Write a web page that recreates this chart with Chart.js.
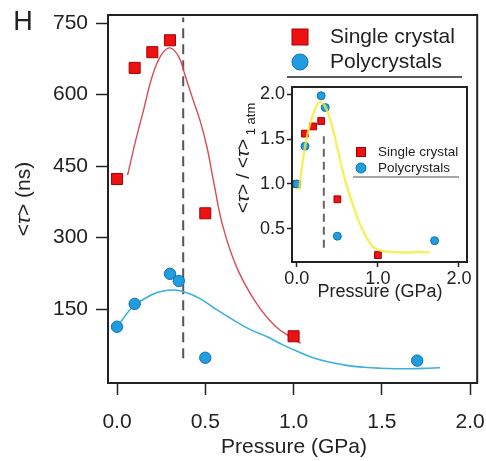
<!DOCTYPE html>
<html>
<head>
<meta charset="utf-8">
<script src="https://cdn.jsdelivr.net/npm/chart.js@4.4.1/dist/chart.umd.min.js"></script>
<style>
  html, body { margin: 0; padding: 0; background: #fff; }
  #wrap { position: relative; width: 486px; height: 461px; }
  canvas { position: absolute; left: 0; top: 0; }
</style>
</head>
<body>
<div id="wrap">
  <canvas id="main" width="486" height="461"></canvas>
  <canvas id="inset" width="486" height="461"></canvas>
</div>
<script>
// main panel data (ns)
const pressureSingle = [0, 0.1, 0.2, 0.3, 0.5, 1.0];
const tauSingle = [423, 656, 689, 714, 351, 93];
const pressurePoly = [0, 0.1, 0.3, 0.35, 0.5, 1.7];
const tauPoly = [113, 161, 224, 209, 48, 42];

// fitted curves
const fitSingleP = [0.06, 0.10, 0.15, 0.20, 0.25, 0.30, 0.35, 0.385, 0.43, 0.47, 0.51, 0.55, 0.60, 0.68, 0.79, 0.90, 1.00, 1.04];
const fitSingleT = [431, 495, 567, 639, 683, 698, 679, 641, 590, 546, 489, 412, 323, 236, 162, 113, 88, 78];
const fitPolyP = [0.02, 0.09, 0.19, 0.26, 0.33, 0.40, 0.47, 0.56, 0.66, 0.75, 0.85, 0.94, 1.03, 1.11, 1.20, 1.30, 1.40, 1.49, 1.58, 1.67, 1.76, 1.83];
const fitPolyT = [123, 155, 179, 188, 190, 184, 172, 150, 127, 108, 92, 75, 60, 48, 39, 32, 28, 26, 25, 25, 26, 27];

const peakP = 0.375;
const peakLineT = [47, 762];

const xTicks = [0, 0.5, 1.0, 1.5, 2.0];
const yTicks = [150, 300, 450, 600, 750];

// inset data (normalised to 1 atm)
const insetSingleR = [1.0, 1.56, 1.64, 1.70, 0.83, 0.21];
const insetPolyR = [1.0, 1.42, 1.98, 1.85, 0.42, 0.37];
const insetFitP = [0.03, 0.06, 0.10, 0.16, 0.22, 0.28, 0.35, 0.43, 0.51, 0.59, 0.68, 0.80, 0.92, 1.00, 1.09, 1.25, 1.45, 1.64];
const insetFitR = [0.93, 1.17, 1.41, 1.66, 1.82, 1.91, 1.86, 1.66, 1.36, 1.06, 0.80, 0.51, 0.32, 0.27, 0.25, 0.24, 0.24, 0.24];
const insetPeakP = 0.333;
const insetPeakLineR = [0.29, 1.53];
const insetXTicks = [0, 1.0, 2.0];
const insetYTicks = [0.5, 1.0, 1.5, 2.0];

const FONT = "'Liberation Sans', Arial, sans-serif";
const INK = "#222";
const RED = "#ee1111", RED_EDGE = "#a80000";
const BLUE = "#1f9de0", BLUE_EDGE = "#1270ac";

const pts = (xs, ys) => xs.map((x, i) => ({ x: x, y: ys[i] }));

// draw a run of text pieces (different fonts / baseline shifts) centred at x,y
function drawParts(ctx, parts, x, y, angle) {
  ctx.save();
  ctx.translate(x, y);
  ctx.rotate(angle || 0);
  ctx.textBaseline = "middle";
  ctx.textAlign = "left";
  let total = 0;
  parts.forEach(p => { ctx.font = p.font; total += ctx.measureText(p.text).width; });
  let cx = -total / 2;
  parts.forEach(p => {
    ctx.font = p.font;
    ctx.fillStyle = INK;
    ctx.fillText(p.text, cx, p.dy || 0);
    cx += ctx.measureText(p.text).width;
  });
  ctx.restore();
}

const framePlugin = {
  id: "frame",
  afterDraw(chart) {
    const a = chart.chartArea, ctx = chart.ctx;
    ctx.save();
    ctx.strokeStyle = INK;
    ctx.lineWidth = 2;
    ctx.strokeRect(a.left, a.top, a.right - a.left, a.bottom - a.top);
    ctx.restore();
  }
};

function axisOpts(min, max, ticks, fontSize, tickLen, pad, fmt, fit) {
  return {
    type: "linear", min: min, max: max,
    afterFit: fit,
    afterBuildTicks(s) { s.ticks = ticks.map(v => ({ value: v })); },
    grid: { drawOnChartArea: false, tickLength: tickLen, tickColor: INK, tickWidth: 1.5 },
    border: { color: INK, width: 2 },
    ticks: { font: { family: FONT, size: fontSize }, color: INK, padding: pad, autoSkip: false, maxRotation: 0, callback: fmt }
  };
}

// fixed axis sizes, no extra room for overhanging labels
const fixX = h => s => { s.height = h; s.paddingLeft = 0; s.paddingRight = 0; };
const fixY = w => s => { s.width = w; s.paddingTop = 0; s.paddingBottom = 0; };

// ---- main chart
const mainTexts = {
  id: "mainTexts",
  afterDraw(chart) {
    const ctx = chart.ctx;
    const f = "21px " + FONT, fi = "italic 21px " + FONT;
    drawParts(ctx, [{ text: "H", font: "27px " + FONT }], 23, 23);
    drawParts(ctx, [{ text: "<", font: f }, { text: "τ", font: fi }, { text: "> (ns)", font: f }], 24, 199, -Math.PI / 2);
    drawParts(ctx, [{ text: "Pressure (GPa)", font: f }], 294, 447);

    // legend
    ctx.save();
    ctx.fillStyle = RED; ctx.strokeStyle = RED_EDGE; ctx.lineWidth = 1;
    ctx.fillRect(292, 29, 16, 16); ctx.strokeRect(292, 29, 16, 16);
    ctx.beginPath(); ctx.arc(300, 62, 8, 0, Math.PI * 2);
    ctx.fillStyle = BLUE; ctx.fill(); ctx.strokeStyle = BLUE_EDGE; ctx.stroke();
    ctx.fillStyle = INK; ctx.font = f; ctx.textBaseline = "middle";
    ctx.fillText("Single crystal", 330, 37);
    ctx.fillText("Polycrystals", 330, 62);
    ctx.beginPath(); ctx.moveTo(287, 77); ctx.lineTo(462, 77);
    ctx.strokeStyle = INK; ctx.lineWidth = 1.5; ctx.stroke();
    ctx.restore();
  }
};

new Chart(document.getElementById("main"), {
  type: "scatter",
  data: {
    datasets: [
      { data: pts(pressureSingle, tauSingle), pointStyle: "rect", pointRadius: 7.8, backgroundColor: RED, borderColor: RED_EDGE, borderWidth: 1 },
      { data: pts(pressurePoly, tauPoly), pointStyle: "circle", pointRadius: 5.7, backgroundColor: BLUE, borderColor: BLUE_EDGE, borderWidth: 1 },
      { data: pts(fitSingleP, fitSingleT), showLine: true, pointRadius: 0, borderColor: "#dc4a55", borderWidth: 1.4, tension: 0.4 },
      { data: pts(fitPolyP, fitPolyT), showLine: true, pointRadius: 0, borderColor: "#3cb0d8", borderWidth: 1.6, tension: 0.4 },
      { data: pts([peakP, peakP], peakLineT), showLine: true, pointRadius: 0, borderColor: "#555", borderWidth: 2, borderDash: [10, 6] }
    ]
  },
  options: {
    responsive: false, animation: false, events: [],
    layout: { padding: { left: 0, top: 15, right: 8, bottom: 0 } },
    plugins: { legend: { display: false }, tooltip: { enabled: false } },
    scales: {
      x: axisOpts(-0.051, 2.04, xTicks, 21, 12, 15, v => v.toFixed(1), fixX(78)),
      y: axisOpts(-5, 767, yTicks, 21, 12, 8, v => String(v), fixY(108))
    }
  },
  plugins: [framePlugin, mainTexts]
});

// ---- inset chart
const insetTexts = {
  id: "insetTexts",
  afterDraw(chart) {
    const ctx = chart.ctx;
    const f = "19px " + FONT, fi = "italic 19px " + FONT;
    drawParts(ctx, [
      { text: "<", font: f }, { text: "τ", font: fi }, { text: "> / <", font: f },
      { text: "τ", font: fi }, { text: ">", font: f }, { text: " 1 atm", font: "13px " + FONT, dy: 7 }
    ], 244, 158, -Math.PI / 2);
    drawParts(ctx, [{ text: "Pressure (GPa)", font: "18px " + FONT }], 380, 292);

    ctx.save();
    ctx.fillStyle = RED; ctx.strokeStyle = RED_EDGE; ctx.lineWidth = 1;
    ctx.fillRect(356.5, 147.5, 9, 9); ctx.strokeRect(356.5, 147.5, 9, 9);
    ctx.beginPath(); ctx.arc(361, 168, 5, 0, Math.PI * 2);
    ctx.fillStyle = BLUE; ctx.fill(); ctx.strokeStyle = BLUE_EDGE; ctx.stroke();
    ctx.fillStyle = INK; ctx.font = "13.5px " + FONT; ctx.textBaseline = "middle";
    ctx.fillText("Single crystal", 378, 152);
    ctx.fillText("Polycrystals", 378, 168);
    ctx.beginPath(); ctx.moveTo(353, 177); ctx.lineTo(459, 177);
    ctx.strokeStyle = "#888"; ctx.lineWidth = 1.5; ctx.stroke();
    ctx.restore();
  }
};

new Chart(document.getElementById("inset"), {
  type: "scatter",
  data: {
    datasets: [
      { data: pts(insetFitP, insetFitR), showLine: true, pointRadius: 0, borderColor: "rgba(245,236,60,0.8)", borderWidth: 2.5, tension: 0.4 },
      { data: pts(pressurePoly, insetPolyR), pointStyle: "circle", pointRadius: 4, backgroundColor: BLUE, borderColor: BLUE_EDGE, borderWidth: 1 },
      { data: pts(pressureSingle, insetSingleR), pointStyle: "rect", pointRadius: 4.8, backgroundColor: RED, borderColor: RED_EDGE, borderWidth: 1 },
      { data: pts([insetPeakP, insetPeakP], insetPeakLineR), showLine: true, pointRadius: 0, borderColor: "#666", borderWidth: 2, borderDash: [8, 5] }
    ]
  },
  options: {
    responsive: false, animation: false, events: [],
    layout: { padding: { left: 0, top: 87, right: 19, bottom: 0 } },
    plugins: { legend: { display: false }, tooltip: { enabled: false } },
    scales: {
      x: axisOpts(-0.06, 2.1, insetXTicks, 18, 5, 1, v => v.toFixed(1), fixX(199)),
      y: axisOpts(0.133, 2.078, insetYTicks, 18, 5, 2, v => v.toFixed(1), fixY(292))
    }
  },
  plugins: [framePlugin, insetTexts]
});
</script>
</body>
</html>
